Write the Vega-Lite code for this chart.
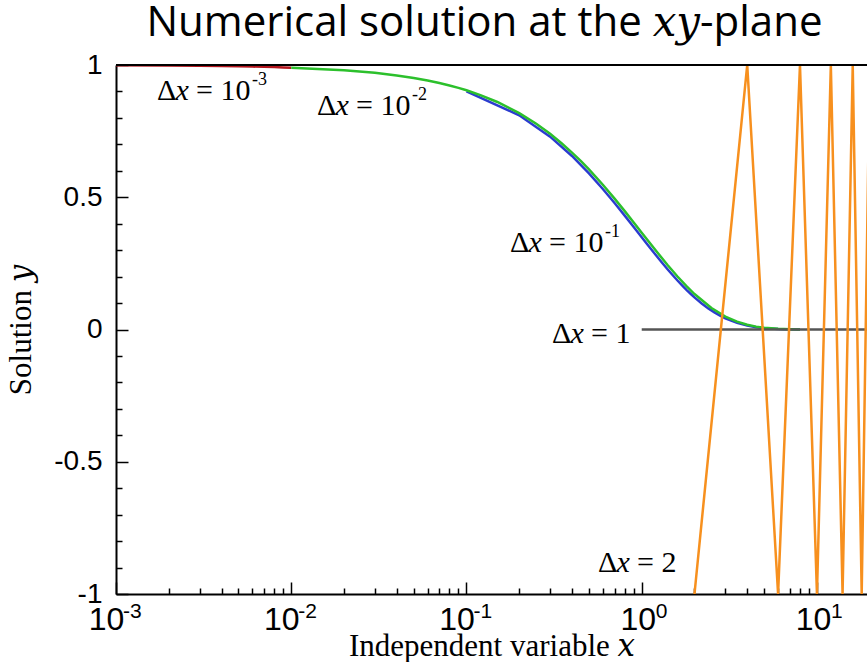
{
  "$schema": "https://vega.github.io/schema/vega-lite/v6.json",
  "width": 751,
  "height": 529,
  "autosize": {"type": "none"},
  "padding": {"left": 116, "top": 65, "right": 0, "bottom": 68},
  "background": "white",
  "config": {"view": {"stroke": null}, "axis": {"labelOverlap": false}},
  "title": {
    "text": "Numerical solution at the 𝑥𝑦-plane",
    "font": "Open Sans, DejaVu Serif",
    "fontSize": 42,
    "fontWeight": "normal",
    "color": "black",
    "anchor": "middle",
    "dx": -7,
    "offset": -27,
    "baseline": "alphabetic"
  },
  "datasets": {
    "dx_1e-3": [
      {"x": 0.001, "y": 0.999}, {"x": 0.002, "y": 0.998}, {"x": 0.003, "y": 0.997},
      {"x": 0.004, "y": 0.996}, {"x": 0.005, "y": 0.995}, {"x": 0.006, "y": 0.994},
      {"x": 0.007, "y": 0.993}, {"x": 0.008, "y": 0.992}, {"x": 0.009, "y": 0.991},
      {"x": 0.01, "y": 0.990}
    ],
    "dx_1e-2": [
      {"x": 0.01, "y": 0.99}, {"x": 0.02, "y": 0.9801}, {"x": 0.03, "y": 0.9703},
      {"x": 0.04, "y": 0.9606}, {"x": 0.05, "y": 0.951}, {"x": 0.06, "y": 0.9415},
      {"x": 0.07, "y": 0.9321}, {"x": 0.08, "y": 0.9227}, {"x": 0.09, "y": 0.9135},
      {"x": 0.1, "y": 0.9044}, {"x": 0.12, "y": 0.8864}, {"x": 0.15, "y": 0.8601},
      {"x": 0.2, "y": 0.8179}, {"x": 0.25, "y": 0.7778}, {"x": 0.3, "y": 0.7397},
      {"x": 0.35, "y": 0.7034}, {"x": 0.4, "y": 0.669}, {"x": 0.45, "y": 0.6362},
      {"x": 0.5, "y": 0.605}, {"x": 0.6, "y": 0.5472}, {"x": 0.7, "y": 0.4948},
      {"x": 0.8, "y": 0.4475}, {"x": 0.9, "y": 0.4047}, {"x": 1.0, "y": 0.366},
      {"x": 1.2, "y": 0.2994}, {"x": 1.4, "y": 0.2449}, {"x": 1.6, "y": 0.2003},
      {"x": 1.8, "y": 0.1638}, {"x": 2.0, "y": 0.134}, {"x": 2.5, "y": 0.0811},
      {"x": 3.0, "y": 0.049}, {"x": 3.5, "y": 0.0297}, {"x": 4.0, "y": 0.018},
      {"x": 4.5, "y": 0.0109}, {"x": 5.0, "y": 0.0066}, {"x": 6.0, "y": 0.0024},
      {"x": 7.0, "y": 0.0009}, {"x": 8.0, "y": 0.0003}
    ],
    "dx_1e-1": [
      {"x": 0.1, "y": 0.9}, {"x": 0.2, "y": 0.81}, {"x": 0.3, "y": 0.729},
      {"x": 0.4, "y": 0.6561}, {"x": 0.5, "y": 0.5905}, {"x": 0.6, "y": 0.5314},
      {"x": 0.7, "y": 0.4783}, {"x": 0.8, "y": 0.4305}, {"x": 0.9, "y": 0.3874},
      {"x": 1.0, "y": 0.3487}, {"x": 1.1, "y": 0.3138}, {"x": 1.2, "y": 0.2824},
      {"x": 1.3, "y": 0.2542}, {"x": 1.4, "y": 0.2288}, {"x": 1.5, "y": 0.2059},
      {"x": 1.6, "y": 0.1853}, {"x": 1.7, "y": 0.1668}, {"x": 1.8, "y": 0.1501},
      {"x": 1.9, "y": 0.1351}, {"x": 2.0, "y": 0.1216}, {"x": 2.2, "y": 0.0985},
      {"x": 2.4, "y": 0.0798}, {"x": 2.6, "y": 0.0646}, {"x": 2.8, "y": 0.0523},
      {"x": 3.0, "y": 0.0424}, {"x": 3.5, "y": 0.025}, {"x": 4.0, "y": 0.0148},
      {"x": 4.5, "y": 0.0087}, {"x": 5.0, "y": 0.0052}, {"x": 6.0, "y": 0.0018},
      {"x": 7.0, "y": 0.0006}, {"x": 8.0, "y": 0.0002}
    ],
    "dx_1": [
      {"x": 1, "y": 0}, {"x": 20, "y": 0}
    ],
    "dx_2": [
      {"x": 2, "y": -1}, {"x": 4, "y": 1}, {"x": 6, "y": -1}, {"x": 8, "y": 1},
      {"x": 10, "y": -1}, {"x": 12, "y": 1}, {"x": 14, "y": -1}, {"x": 16, "y": 1},
      {"x": 18, "y": -1}, {"x": 20, "y": 1}
    ],
    "step_labels": [
      {"x": 0.001714, "y": 0.8677, "rest": "= 10", "exp": "-3"},
      {"x": 0.01403, "y": 0.811, "rest": "= 10", "exp": "-2"},
      {"x": 0.1772, "y": 0.293, "rest": "= 10", "exp": "-1"},
      {"x": 0.3077, "y": -0.051, "rest": "= 1", "exp": ""},
      {"x": 0.5632, "y": -0.9168, "rest": "= 2", "exp": ""}
    ],
    "decade_exponents": [
      {"x": 0.001, "e": "-3"}, {"x": 0.01, "e": "-2"}, {"x": 0.1, "e": "-1"},
      {"x": 1, "e": "0"}, {"x": 10, "e": "1"}
    ]
  },
  "layer": [
    {
      "data": {"name": "dx_1e-3"},
      "mark": {"type": "line", "color": "#b3141c", "strokeWidth": 2.5, "clip": true},
      "encoding": {
        "x": {
          "field": "x", "type": "quantitative",
          "scale": {"type": "log", "domain": [0.001, 19.3], "nice": false},
          "axis": {
            "title": "Independent variable 𝑥",
            "titleFont": "Liberation Serif, DejaVu Serif",
            "titleFontSize": 31,
            "titleFontWeight": "normal",
            "titleColor": "black",
            "titlePadding": -10,
            "values": [0.001, 0.002, 0.003, 0.004, 0.005, 0.006, 0.007, 0.008, 0.009,
                       0.01, 0.02, 0.03, 0.04, 0.05, 0.06, 0.07, 0.08, 0.09,
                       0.1, 0.2, 0.3, 0.4, 0.5, 0.6, 0.7, 0.8, 0.9,
                       1, 2, 3, 4, 5, 6, 7, 8, 9, 10],
            "tickCount": 60,
            "labelExpr": "abs(log(datum.value)/LN10 - round(log(datum.value)/LN10)) < 1e-6 ? '10' : ''",
            "labelFont": "Liberation Sans",
            "labelFontSize": 32,
            "labelColor": "black",
            "labelPadding": 22.6,
            "labelOffset": {"condition": {"test": "datum.value < 1", "value": -10}, "value": -4},
            "labelOverlap": false,
            "labelFlush": false,
            "labelBound": false,
            "tickSize": {"condition": {"test": "abs(log(datum.value)/LN10 - round(log(datum.value)/LN10)) < 1e-6", "value": -12}, "value": -6},
            "tickColor": "black",
            "tickWidth": 1.5,
            "domainColor": "black",
            "domainWidth": 2,
            "grid": false
          }
        },
        "y": {
          "field": "y", "type": "quantitative",
          "scale": {"domain": [-1, 1], "nice": false, "zero": false},
          "axis": {
            "title": "Solution 𝑦",
            "titleFont": "Liberation Serif, DejaVu Serif",
            "titleFontSize": 31,
            "titleFontWeight": "normal",
            "titleColor": "black",
            "titlePadding": 16,
            "values": [-1, -0.9, -0.8, -0.7, -0.6, -0.5, -0.4, -0.3, -0.2, -0.1, 0,
                       0.1, 0.2, 0.3, 0.4, 0.5, 0.6, 0.7, 0.8, 0.9, 1],
            "tickCount": 40,
            "labelExpr": "datum.value == 1 ? '1' : datum.value == 0.5 ? '0.5' : datum.value == 0 ? '0' : datum.value == -0.5 ? '-0.5' : datum.value == -1 ? '-1' : ''",
            "labelFont": "Liberation Sans",
            "labelFontSize": 28,
            "labelColor": "black",
            "labelPadding": 26,
            "labelOverlap": false,
            "labelFlush": false,
            "labelBound": false,
            "tickSize": {"condition": {"test": "indexof([-1, -0.5, 0, 0.5, 1], datum.value) >= 0", "value": -12}, "value": -6},
            "tickColor": "black",
            "tickWidth": 1.5,
            "domainColor": "black",
            "domainWidth": 2,
            "grid": false
          }
        }
      }
    },
    {
      "data": {"name": "dx_1e-1"},
      "mark": {"type": "line", "color": "#2b3ccf", "strokeWidth": 2.5, "clip": true},
      "encoding": {
        "x": {"field": "x", "type": "quantitative"},
        "y": {"field": "y", "type": "quantitative"}
      }
    },
    {
      "data": {"name": "dx_1e-2"},
      "mark": {"type": "line", "color": "#2cc02c", "strokeWidth": 2.5, "clip": true},
      "encoding": {
        "x": {"field": "x", "type": "quantitative"},
        "y": {"field": "y", "type": "quantitative"}
      }
    },
    {
      "data": {"name": "dx_1"},
      "mark": {"type": "line", "color": "#555555", "strokeWidth": 2.5, "clip": true},
      "encoding": {
        "x": {"field": "x", "type": "quantitative"},
        "y": {"field": "y", "type": "quantitative"}
      }
    },
    {
      "data": {"name": "dx_2"},
      "mark": {"type": "line", "color": "#f7901e", "strokeWidth": 2.5, "clip": true},
      "encoding": {
        "x": {"field": "x", "type": "quantitative"},
        "y": {"field": "y", "type": "quantitative"}
      }
    },
    {
      "data": {"values": [{}]},
      "mark": {"type": "rule", "color": "black", "strokeWidth": 2},
      "encoding": {"y": {"datum": 1, "type": "quantitative"}}
    },
    {
      "data": {"name": "step_labels"},
      "mark": {"type": "text", "text": "Δ", "font": "Liberation Serif", "fontSize": 30, "align": "left", "baseline": "alphabetic", "color": "black"},
      "encoding": {
        "x": {"field": "x", "type": "quantitative"},
        "y": {"field": "y", "type": "quantitative"}
      }
    },
    {
      "data": {"name": "step_labels"},
      "mark": {"type": "text", "text": "x", "font": "Liberation Serif", "fontStyle": "italic", "fontSize": 30, "align": "left", "baseline": "alphabetic", "dx": 18.4, "color": "black"},
      "encoding": {
        "x": {"field": "x", "type": "quantitative"},
        "y": {"field": "y", "type": "quantitative"}
      }
    },
    {
      "data": {"name": "step_labels"},
      "mark": {"type": "text", "font": "Liberation Serif", "fontSize": 30, "align": "left", "baseline": "alphabetic", "dx": 39, "color": "black"},
      "encoding": {
        "x": {"field": "x", "type": "quantitative"},
        "y": {"field": "y", "type": "quantitative"},
        "text": {"field": "rest"}
      }
    },
    {
      "data": {"name": "step_labels"},
      "mark": {"type": "text", "font": "Liberation Serif", "fontSize": 18, "align": "left", "baseline": "alphabetic", "dx": 95, "dy": -15, "color": "black"},
      "encoding": {
        "x": {"field": "x", "type": "quantitative"},
        "y": {"field": "y", "type": "quantitative"},
        "text": {"field": "exp"}
      }
    },
    {
      "data": {"name": "decade_exponents"},
      "transform": [{"filter": "datum.x < 1"}],
      "mark": {"type": "text", "font": "Liberation Sans", "fontSize": 21, "align": "left", "baseline": "top", "dx": 7, "dy": 7.4, "color": "black"},
      "encoding": {
        "x": {"field": "x", "type": "quantitative"},
        "y": {"datum": -1, "type": "quantitative"},
        "text": {"field": "e"}
      }
    },
    {
      "data": {"name": "decade_exponents"},
      "transform": [{"filter": "datum.x >= 1"}],
      "mark": {"type": "text", "font": "Liberation Sans", "fontSize": 21, "align": "left", "baseline": "top", "dx": 14, "dy": 7.4, "color": "black"},
      "encoding": {
        "x": {"field": "x", "type": "quantitative"},
        "y": {"datum": -1, "type": "quantitative"},
        "text": {"field": "e"}
      }
    }
  ]
}
